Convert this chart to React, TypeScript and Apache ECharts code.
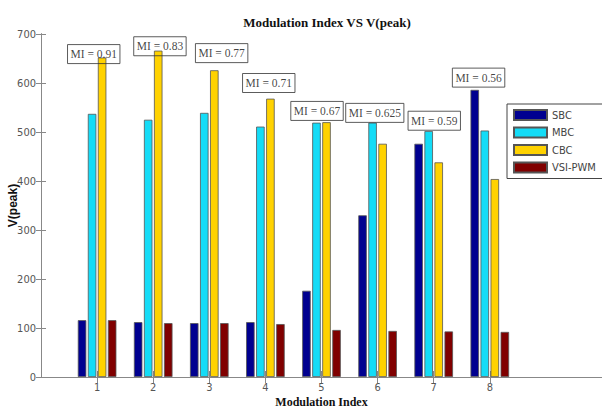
import React, { useEffect, useRef } from "react";
import * as echarts from "echarts";

const categories = [1, 2, 3, 4, 5, 6, 7, 8];
const sbc = [116, 112, 110, 112, 176, 330, 476, 586];
const mbc = [537, 525, 539, 511, 519, 519, 502, 503];
const cbc = [652, 666, 626, 568, 520, 476, 438, 404];
const vsi = [116, 110, 110, 108, 96, 94, 93, 92];
const miLabels = ["MI = 0.91", "MI = 0.83", "MI = 0.77", "MI = 0.71", "MI = 0.67", "MI = 0.625", "MI = 0.59", "MI = 0.56"];
const miX = [0.94, 2.12, 3.22, 4.06, 4.92, 5.95, 7.01, 7.8];
const miY = [659, 675, 661, 600, 543, 539, 523, 611];
const yTicks = [0, 100, 200, 300, 400, 500, 600, 700];

const narrow = "'Liberation Sans Narrow', 'DejaVu Sans Condensed', 'Liberation Sans', Arial, sans-serif";
const serif = "'Liberation Serif', 'Times New Roman', serif";

export default function App() {
  const ref = useRef<HTMLDivElement>(null);
  useEffect(() => {
    if (!ref.current) return;
    const chart = echarts.init(ref.current, null, { renderer: "svg" });
    const barStyle = (color: string) => ({ color, borderColor: "#555", borderWidth: 0.8 });
    const mk = (name: string, vals: number[], color: string) => ({
      name,
      type: "bar",
      data: vals.map((v, i) => [categories[i], v]),
      barWidth: 8.5,
      barGap: "18%",
      itemStyle: barStyle(color),
      z: 2,
    });
    chart.setOption({
      animation: false,
      backgroundColor: "#fff",
      title: {
        text: "Modulation Index VS V(peak)",
        left: 322,
        top: 11,
        textAlign: "center",
        textStyle: { fontFamily: serif, fontWeight: "bold", fontSize: 13, color: "#111" },
      },
      grid: { left: 41, top: 34, right: 0, bottom: 31, outerBoundsMode: "none", containLabel: false },
      legend: {
        data: ["SBC", "MBC", "CBC", "VSI-PWM"],
        orient: "vertical",
        left: 507,
        top: 104,
        itemWidth: 33,
        itemHeight: 10,
        itemGap: 5.5,
        itemTextGap: 4,
        icon: "rect",
        padding: [5, 13, 5, 6],
        borderColor: "#444",
        borderWidth: 1,
        backgroundColor: "#fff",
        z: 10,
        textStyle: { fontFamily: narrow, fontSize: 11, color: "#444" },
      },
      xAxis: [
        {
          type: "value",
          min: 0,
          max: 10,
          interval: 1,
          position: "bottom",
          name: "Modulation Index",
          nameLocation: "middle",
          nameGap: 19,
          nameMoveOverlap: false,
          nameTextStyle: { fontFamily: serif, fontWeight: "bold", fontSize: 12, color: "#111", verticalAlign: "top" },
          axisLine: { show: true, lineStyle: { color: "#333", width: 1 } },
          axisTick: { show: true, inside: true, length: 6, customValues: categories, lineStyle: { color: "#888" } },
          axisLabel: { customValues: categories, fontFamily: narrow, fontSize: 11, color: "#555", margin: 5 },
          splitLine: { show: false },
        },
        {
          type: "value",
          min: 0,
          max: 10,
          interval: 1,
          position: "top",
          axisLine: { show: true, lineStyle: { color: "#888", width: 1 } },
          axisTick: { show: true, inside: true, length: 6, customValues: categories, lineStyle: { color: "#888" } },
          axisLabel: { show: false },
          splitLine: { show: false },
        },
      ],
      yAxis: [
        {
          type: "value",
          min: 0,
          max: 700,
          interval: 100,
          position: "left",
          name: "V(peak)",
          nameLocation: "middle",
          nameGap: 22,
          nameMoveOverlap: false,
          nameTextStyle: { fontFamily: "'Liberation Sans', Arial, sans-serif", fontWeight: "bold", fontSize: 12, color: "#111" },
          axisLine: { show: true, lineStyle: { color: "#333", width: 1 } },
          axisTick: { show: true, inside: true, length: 5, lineStyle: { color: "#888" } },
          axisLabel: { fontFamily: narrow, fontSize: 11, color: "#555", margin: 5, formatter: (v: number) => (yTicks.includes(v) ? String(v) : "") },
          splitLine: { show: false },
        },
        {
          type: "value",
          min: 0,
          max: 700,
          interval: 100,
          position: "right",
          axisLine: { show: true, lineStyle: { color: "#888", width: 1 } },
          axisTick: { show: true, inside: true, length: 5, lineStyle: { color: "#888" } },
          axisLabel: { show: false },
          splitLine: { show: false },
        },
      ],
      series: [
        mk("SBC", sbc, "#000090"),
        mk("MBC", mbc, "#14DCF7"),
        mk("CBC", cbc, "#FFD200"),
        mk("VSI-PWM", vsi, "#800000"),
        {
          name: "MI",
          type: "scatter",
          data: miX.map((x, i) => [x, miY[i]]),
          symbolSize: 1,
          itemStyle: { color: "transparent" },
          z: 5,
          label: {
            show: true,
            position: "inside",
            formatter: (p: any) => miLabels[p.dataIndex],
            fontFamily: serif,
            fontSize: 11.5,
            color: "#111",
            borderColor: "#333",
            borderWidth: 1,
            padding: [4, 3, 3, 3],
          },
        },
      ],
    });
    return () => chart.dispose();
  }, []);
  return <div ref={ref} style={{ position: "fixed", left: 0, top: 0, width: 602, height: 408 }} />;
}
